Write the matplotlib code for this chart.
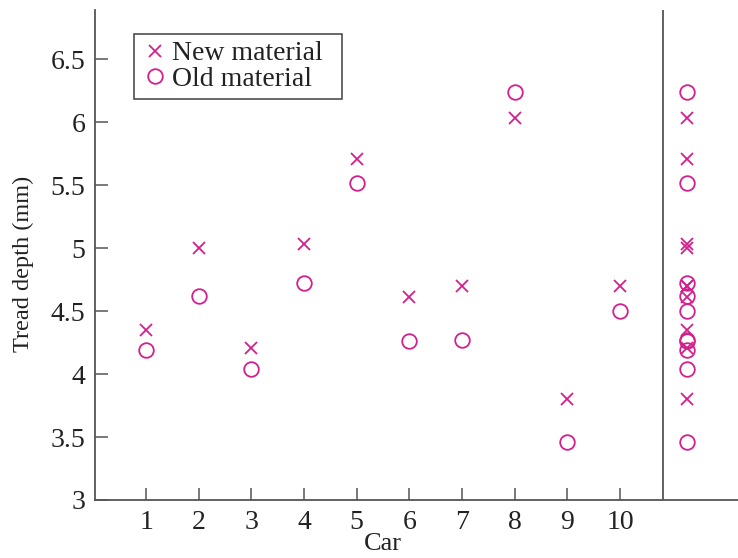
import numpy as np
import matplotlib
matplotlib.use("Agg")
import matplotlib.pyplot as plt

# tread depth (mm) for each car
cars = np.arange(1, 11)
new_material = [4.35, 5.00, 4.21, 5.03, 5.71, 4.61, 4.70, 6.03, 3.80, 4.70]
old_material = [4.19, 4.62, 4.04, 4.72, 5.52, 4.26, 4.27, 6.24, 3.46, 4.50]
y_ticks = [3, 3.5, 4, 4.5, 5, 5.5, 6, 6.5]
y_tick_labels = ["3", "3.5", "4", "4.5", "5", "5.5", "6", "6.5"]

pink = "#d4208c"
axis_grey = "#555555"

plt.rcParams["font.family"] = ["Liberation Serif", "DejaVu Serif"]

fig = plt.figure(figsize=(7.38, 5.58), dpi=100)
ax = fig.add_axes([95 / 738, 58 / 558, 643 / 738, 490 / 558])

ax.plot(cars, new_material, linestyle="none", marker="x", markersize=8.5,
        markeredgewidth=1.3, color=pink, label="New material")
ax.plot(cars, old_material, linestyle="none", marker="o", markersize=10.5,
        markeredgewidth=1.3, markerfacecolor="none", color=pink, label="Old material")

# dot plot of all values on the right
x_dot = 11.27
ax.plot(np.full(len(new_material), x_dot), new_material, linestyle="none", marker="x",
        markersize=8.5, markeredgewidth=1.3, color=pink)
ax.plot(np.full(len(old_material), x_dot), old_material, linestyle="none", marker="o",
        markersize=10.5, markeredgewidth=1.3, markerfacecolor="none", color=pink)

ax.axvline(10.82, color=axis_grey, linewidth=1.3)

ax.set_xlim(0.03, 12.24)
ax.set_ylim(3, 6.89)
ax.set_xticks(cars)
ax.set_xticklabels([str(c) for c in cars])
ax.set_yticks(y_ticks)
ax.set_yticklabels(y_tick_labels)

for side in ["top", "right"]:
    ax.spines[side].set_visible(False)
for side in ["left", "bottom"]:
    ax.spines[side].set_color(axis_grey)
    ax.spines[side].set_linewidth(1.3)

ax.tick_params(direction="in", length=9, width=1.1, color=axis_grey,
               labelsize=20, labelcolor="#222222", pad=7)

ax.set_xlabel("Car", fontsize=19, color="#222222")
ax.xaxis.set_label_coords(0.448, -0.068)
ax.set_ylabel("Tread depth (mm)", fontsize=17.5, color="#222222")
ax.yaxis.set_label_coords(-0.095, 0.482)

# legend box stretched to the width seen in the reference
leg = ax.legend(loc="upper left", bbox_to_anchor=(39 / 643, 0.5, 208 / 643, 1 - 24 / 490 - 0.5),
                mode="expand", fontsize=20,
                frameon=True, fancybox=False, handletextpad=0.1, handlelength=1.0,
                borderpad=0.25, labelspacing=0.0, borderaxespad=0)
leg.get_frame().set_edgecolor("#222222")
leg.get_frame().set_linewidth(1.2)
for t in leg.get_texts():
    t.set_color("#222222")

fig.savefig("out.png", dpi=100)
